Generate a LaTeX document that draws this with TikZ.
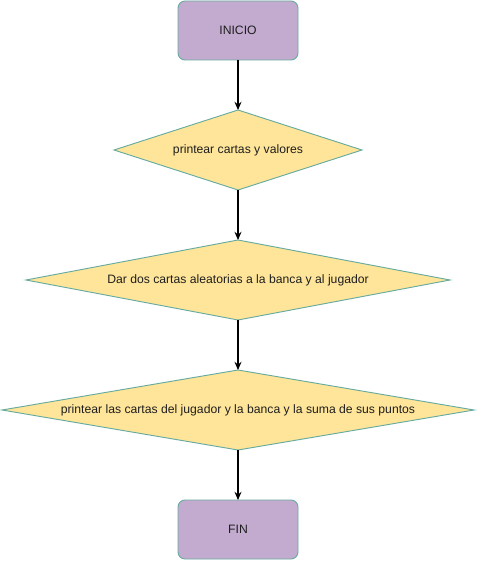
\documentclass[tikz,border=0pt]{standalone}
\usepackage{fontspec}
\setmainfont{Liberation Sans}
\usepackage{tikz}
\usetikzlibrary{shapes.geometric, arrows.meta, positioning}
\definecolor{myteal}{RGB}{103,171,159}
\definecolor{mylilac}{RGB}{195,171,208}
\definecolor{myyellow}{RGB}{255,229,153}
\definecolor{mytext}{RGB}{30,30,30}
\tikzset{
  termbox/.style={rectangle, draw=myteal, fill=mylilac, outer sep=0pt,
    minimum width=3.6cm, minimum height=1.77cm, text=mytext,
    font=\fontsize{10.4}{12}\selectfont, rounded corners=6pt, line width=0.8pt},
  decision/.style={diamond, draw=myteal, fill=myyellow, inner sep=0pt,
    outer sep=0pt, minimum height=2.4cm, text=mytext,
    font=\fontsize{10.4}{12}\selectfont, line width=0.8pt},
  arrow/.style={-{Stealth[length=7pt,width=6pt]}, line width=0.9pt, color=black}
}
\begin{document}
\begin{tikzpicture}[node distance=1.5cm]
  \useasboundingbox (0,0) rectangle (14.28,-16.83);
  \node[termbox] (inicio) at (7.14,-0.915) {INICIO};
  \node[decision, aspect=3.1, minimum width=7.44cm, below=of inicio] (d1)
    {printear cartas y valores};
  \node[decision, aspect=5.3, minimum width=12.72cm, below=of d1] (d2)
    {Dar dos cartas aleatorias a la banca y al jugador};
  \node[decision, aspect=5.9, minimum width=14.16cm, below=of d2] (d3)
    {printear las cartas del jugador y la banca y la suma de sus puntos};
  \node[termbox, below=of d3] (fin) {FIN};
  \draw[arrow] (inicio) -- (d1);
  \draw[arrow] (d1) -- (d2);
  \draw[arrow] (d2) -- (d3);
  \draw[arrow] (d3) -- (fin);
\end{tikzpicture}
\end{document}
